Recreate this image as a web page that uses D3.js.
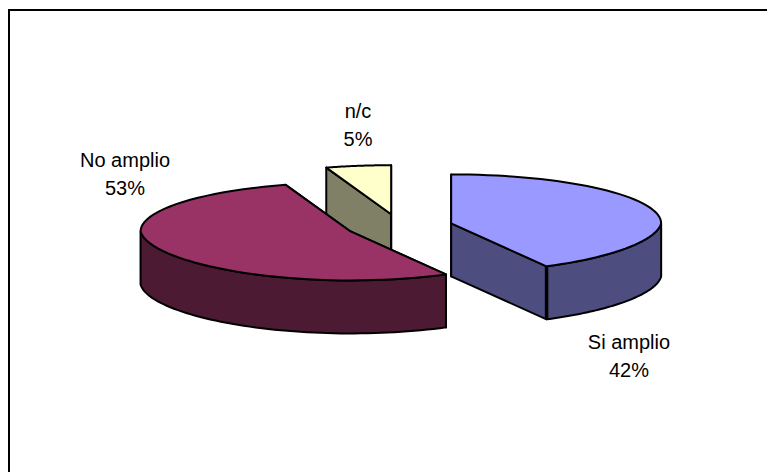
<!DOCTYPE html>
<html>
<head>
<meta charset="utf-8">
<script src="https://cdn.jsdelivr.net/npm/d3@7"></script>
<style>
  html, body { margin: 0; padding: 0; background: #fff; }
  svg { display: block; }
  text { font-family: "Liberation Sans", Arial, sans-serif; font-size: 20px; fill: #000; }
</style>
</head>
<body>
<svg id="chart" width="767" height="472"></svg>
<script>
const categories = ["Si amplio", "No amplio", "n/c"];
const shares = [42, 53, 5];
const topColors = ["#9999ff", "#993366", "#ffffcc"];
const wallColors = ["#4d4d80", "#4d1a33", "#808066"];

// Label centres, one per category
const labelX = [629, 125, 358];
const labelY = [349, 167, 118];
const labelLeading = 28;

// Tilted pie geometry
const centre = { x: 399.5, y: 226.5 };
const radiusX = 210;
const radiusY = 49;
const depth = 53;
const explode = 0.254;
const frontNarrowing = 0.065;

const svg = d3.select("#chart");

// Chart-area frame: only the top and left rules fall inside the window
svg.append("path")
  .attr("d", "M767,10H9V472")
  .attr("fill", "none")
  .attr("stroke", "#000")
  .attr("stroke-width", 2);

const slices = d3.pie().sort(null)(shares);

// Rim point of a slice; the side nearest the viewer is drawn slightly narrower
const project = (cx, cy, angle, drop = 0) => {
  const narrowing = 1 - frontNarrowing * Math.max(0, -Math.cos(angle));
  return [
    cx + radiusX * narrowing * Math.sin(angle),
    cy - radiusY * Math.cos(angle) + drop
  ];
};

const arcPoints = (cx, cy, a0, a1, drop = 0) =>
  d3.range(0, 61).map(i => project(cx, cy, a0 + (a1 - a0) * i / 60, drop));

const poly = d3.line();

const solids = slices.map((s, i) => {
  const mid = (s.startAngle + s.endAngle) / 2;
  return {
    index: i,
    slice: s,
    cx: centre.x + explode * radiusX * Math.sin(mid),
    cy: centre.y - explode * radiusY * Math.cos(mid)
  };
});

// Painter's order: farthest solid first
const paintOrder = solids.slice().sort((a, b) => a.cy - b.cy);

paintOrder.forEach(d => {
  const { cx, cy, slice: s, index: i } = d;
  const g = svg.append("g").attr("class", "slice");
  const outline = sel => sel.attr("stroke", "#000").attr("stroke-width", 2).attr("stroke-linejoin", "round");

  // Flat cut faces
  [s.startAngle, s.endAngle].forEach(a => {
    const rim = project(cx, cy, a);
    const rimLow = project(cx, cy, a, depth);
    g.append("path")
      .attr("d", poly([[cx, cy], rim, rimLow, [cx, cy + depth]]) + "Z")
      .attr("fill", wallColors[i])
      .call(outline);
  });

  // Curved outer wall, only the part turned toward the viewer
  const w0 = Math.max(s.startAngle, Math.PI / 2);
  const w1 = Math.min(s.endAngle, Math.PI * 1.5);
  if (w1 > w0) {
    const upper = arcPoints(cx, cy, w0, w1);
    const lower = arcPoints(cx, cy, w1, w0, depth);
    g.append("path")
      .attr("d", poly(upper.concat(lower)) + "Z")
      .attr("fill", wallColors[i])
      .call(outline);
  }

  // Top face
  g.append("path")
    .attr("d", poly([[cx, cy]].concat(arcPoints(cx, cy, s.startAngle, s.endAngle))) + "Z")
    .attr("fill", topColors[i])
    .call(outline);

  // Heavy seam where the cut face meets the outer wall
  if (s.endAngle > Math.PI / 2 && s.endAngle < Math.PI) {
    const a = project(cx, cy, s.endAngle);
    const b = project(cx, cy, s.endAngle, depth);
    g.append("line")
      .attr("x1", a[0]).attr("y1", a[1])
      .attr("x2", b[0]).attr("y2", b[1])
      .attr("stroke", "#000").attr("stroke-width", 3.5);
  }
});

// Two-line labels: category, then share
const labels = svg.selectAll("g.label").data(categories).join("g").attr("class", "label");
labels.append("text")
  .attr("x", (d, i) => labelX[i]).attr("y", (d, i) => labelY[i])
  .attr("text-anchor", "middle")
  .text(d => d);
labels.append("text")
  .attr("x", (d, i) => labelX[i]).attr("y", (d, i) => labelY[i] + labelLeading)
  .attr("text-anchor", "middle")
  .text((d, i) => shares[i] + "%");
</script>
</body>
</html>
